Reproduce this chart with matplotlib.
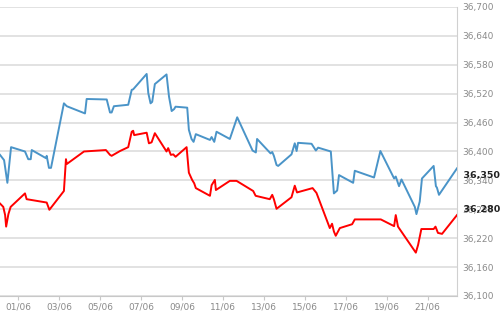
import matplotlib
matplotlib.use("Agg")
import matplotlib.pyplot as plt

# x = day of June (1.0 = 01/06 00:00), y = index value
blue_days = [0.12, 0.32, 0.48, 0.66, 1.34, 1.50, 1.62, 1.67, 2.37, 2.40, 2.51, 2.61,
             3.24, 3.38, 4.27, 4.35, 5.33, 5.49, 5.57, 5.68, 6.38, 6.55, 6.62, 7.28,
             7.36, 7.47, 7.55, 7.68, 8.25, 8.37, 8.50, 8.62, 8.69, 9.26, 9.34, 9.47,
             9.57, 9.68, 10.37, 10.45, 10.58, 10.69, 11.34, 11.70, 12.45, 12.61, 12.67,
             13.33, 13.41, 13.49, 13.62, 13.70, 14.35, 14.51, 14.60, 14.67, 15.33,
             15.54, 15.65, 16.27, 16.42, 16.58, 16.67, 17.36, 17.44, 18.38, 18.69,
             19.36, 19.44, 19.60, 19.72, 20.37, 20.45, 20.61, 20.72, 21.29, 21.40,
             21.45, 21.55, 22.43]
blue_vals = [36393, 36382, 36335, 36409, 36400, 36384, 36384, 36403, 36386, 36391, 36366, 36366,
             36500, 36494, 36479, 36509, 36508, 36481, 36481, 36494, 36497, 36528, 36529, 36561,
             36521, 36500, 36503, 36540, 36560, 36514, 36484, 36488, 36493, 36491, 36445, 36426,
             36420, 36436, 36424, 36430, 36420, 36441, 36426, 36471, 36402, 36398, 36426,
             36396, 36399, 36391, 36372, 36370, 36394, 36417, 36401, 36418, 36416,
             36402, 36408, 36400, 36313, 36319, 36351, 36335, 36360, 36346, 36401,
             36344, 36348, 36328, 36342, 36285, 36270, 36296, 36344, 36370, 36328,
             36325, 36310, 36365]

red_days = [0.12, 0.28, 0.37, 0.42, 0.53, 0.64, 1.34, 1.42, 2.40, 2.53, 2.64, 3.24,
            3.34, 3.38, 4.22, 5.29, 5.49, 5.57, 5.98, 6.38, 6.55, 6.62, 6.67, 7.28,
            7.39, 7.52, 7.68, 8.25, 8.33, 8.46, 8.58, 8.69, 9.23, 9.34, 9.50, 9.60,
            9.68, 10.37, 10.45, 10.61, 10.66, 11.34, 11.67, 12.48, 12.60, 13.29, 13.41,
            13.49, 13.62, 14.35, 14.51, 14.62, 15.38, 15.57, 16.22, 16.33, 16.42,
            16.51, 16.71, 17.31, 17.44, 18.71, 19.36, 19.44, 19.55, 19.63, 20.42,
            20.53, 20.69, 21.29, 21.38, 21.50, 21.70, 22.43]
red_vals = [36292, 36285, 36268, 36244, 36270, 36285, 36313, 36301, 36294, 36279, 36285, 36318,
            36384, 36374, 36400, 36403, 36393, 36391, 36401, 36409, 36441, 36443, 36434, 36439,
            36417, 36419, 36438, 36400, 36407, 36393, 36394, 36389, 36409, 36356, 36341, 36334,
            36324, 36308, 36330, 36341, 36320, 36339, 36339, 36318, 36308, 36301, 36310,
            36301, 36281, 36305, 36329, 36315, 36324, 36314, 36241, 36250, 36234,
            36225, 36241, 36249, 36259, 36259, 36245, 36268, 36244, 36239, 36190,
            36206, 36239, 36239, 36244, 36231, 36229, 36268]

x_ticks = [1, 3, 5, 7, 9, 11, 13, 15, 17, 19, 21]
x_labels = ["01/06", "03/06", "05/06", "07/06", "09/06", "11/06",
            "13/06", "15/06", "17/06", "19/06", "21/06"]
y_ticks = [36100, 36160, 36220, 36280, 36340, 36400, 36460, 36520, 36580, 36640, 36700]
last_labels = [(36350, "36,350"), (36280, "36,280")]

fig = plt.figure(figsize=(5, 3.12), dpi=100)
ax = fig.add_axes([0.0, 0.0513, 0.914, 0.9263])

ax.plot(blue_days, blue_vals, color="#4a94c8", lw=1.4, zorder=3)
ax.plot(red_days, red_vals, color="#ff0000", lw=1.4, zorder=3)

ax.set_xlim(0.12, 22.43)
ax.set_ylim(36100, 36700)
ax.set_xticks(x_ticks)
ax.set_xticklabels(x_labels)
ax.set_yticks(y_ticks)
ax.set_yticklabels([f"{v:,}" for v in y_ticks])

ax.yaxis.tick_right()
ax.grid(axis="y", color="#dddddd", lw=1.2)
ax.set_axisbelow(True)
for s in ["top", "left"]:
    ax.spines[s].set_visible(False)
ax.spines["right"].set_color("#d0d0d0")
ax.spines["bottom"].set_color("#c8c8c8")
ax.tick_params(axis="y", length=0, pad=4, labelsize=6.5, labelcolor="#8a8a8a")
ax.tick_params(axis="x", length=3, color="#c8c8c8", pad=2, labelsize=6.5, labelcolor="#8a8a8a")

for v, t in last_labels:
    ax.text(1.0, v, "  " + t, transform=ax.get_yaxis_transform(), ha="left", va="center",
            fontsize=6.8, color="#222222", fontweight="bold", clip_on=False)

fig.savefig("out.png", dpi=100)
